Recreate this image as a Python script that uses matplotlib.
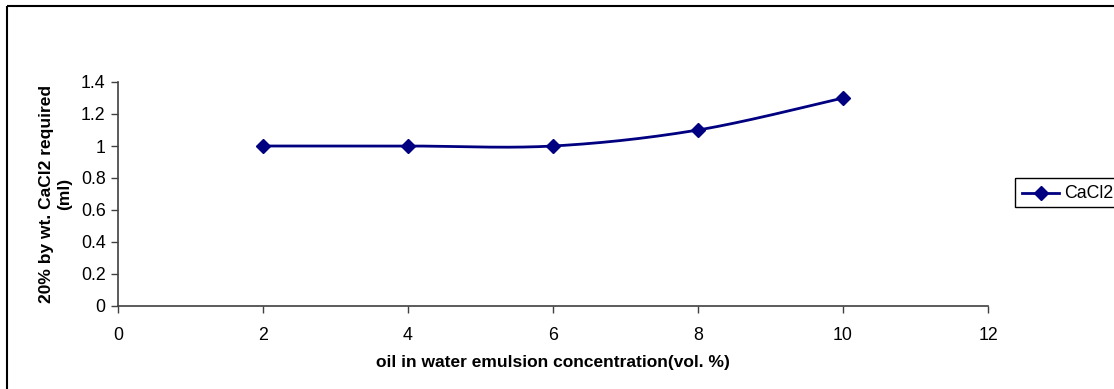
import numpy as np
import matplotlib.pyplot as plt
from matplotlib.patches import Rectangle

# oil in water emulsion concentration (vol. %) vs CaCl2 solution needed
concentration = [2, 4, 6, 8, 10]
cacl2_ml = [1.0, 1.0, 1.0, 1.1, 1.3]

plt.rcParams['font.family'] = ['Liberation Sans', 'DejaVu Sans']


def smooth_curve(x, y, n=40):
    # Bezier smoothing through the points (like a spreadsheet "smoothed line")
    x = np.asarray(x, float)
    y = np.asarray(y, float)
    px = np.concatenate([[x[0]], x, [x[-1]]])
    py = np.concatenate([[y[0]], y, [y[-1]]])
    xs, ys = [], []
    t = np.linspace(0, 1, n)
    for i in range(1, len(px) - 2):
        p0 = np.array([px[i], py[i]])
        p3 = np.array([px[i + 1], py[i + 1]])
        p1 = p0 + (np.array([px[i + 1], py[i + 1]]) - np.array([px[i - 1], py[i - 1]])) / 6
        p2 = p3 - (np.array([px[i + 2], py[i + 2]]) - np.array([px[i], py[i]])) / 6
        b = ((1 - t) ** 3)[:, None] * p0 + (3 * (1 - t) ** 2 * t)[:, None] * p1 \
            + (3 * (1 - t) * t ** 2)[:, None] * p2 + (t ** 3)[:, None] * p3
        xs.extend(b[:, 0])
        ys.extend(b[:, 1])
    return xs, ys


fig = plt.figure(figsize=(11.14, 3.89), dpi=100)
ax = fig.add_axes([118 / 1114, 1 - 306 / 389, (988 - 118) / 1114, (306 - 82) / 389])

navy = '#000080'
fs = 12.8
sx, sy = smooth_curve(concentration, cacl2_ml)
ax.plot(sx, sy, color=navy, lw=2)
ax.plot(concentration, cacl2_ml, ls='none', marker='D', ms=7, color=navy)

ax.set_xlim(0, 12)
ax.set_ylim(0, 1.4)
ax.set_xticks(range(0, 13, 2))
ax.set_yticks(np.arange(0, 1.41, 0.2))
ax.set_yticklabels(['0', '0.2', '0.4', '0.6', '0.8', '1', '1.2', '1.4'])
ax.spines['top'].set_visible(False)
ax.spines['right'].set_visible(False)
for s in ('left', 'bottom'):
    ax.spines[s].set_color('#404040')
    ax.spines[s].set_linewidth(1.2)
ax.tick_params(direction='out', length=5, width=1, colors='#404040', labelcolor='black',
               labelsize=fs)
ax.tick_params(axis='y', pad=4)
ax.tick_params(axis='x', pad=10)

ax.set_xlabel('oil in water emulsion concentration(vol. %)', fontsize=fs * 0.98,
              fontweight='bold', labelpad=8)
ax.set_ylabel('20% by wt. CaCl2 required\n(ml)', fontsize=fs * 0.98, fontweight='bold',
              labelpad=6, linespacing=1.3)

# legend box at right, cut by figure edge
leg_ax = fig.add_axes([0, 0, 1, 1], facecolor='none')
leg_ax.set_xlim(0, 1114)
leg_ax.set_ylim(389, 0)
leg_ax.axis('off')
leg_ax.add_patch(Rectangle((1015, 178), 120, 29, fill=False, ec='black', lw=1))
leg_ax.plot([1022, 1059], [193, 193], color=navy, lw=2)
leg_ax.plot([1041], [193], marker='D', ms=7, color=navy)
leg_ax.text(1064, 193, 'CaCl2', fontsize=fs, va='center', ha='left')

# outer chart border
leg_ax.add_patch(Rectangle((7, 6), 1120, 400, fill=False, ec='black', lw=1.5))

fig.savefig('out.png', dpi=100)
